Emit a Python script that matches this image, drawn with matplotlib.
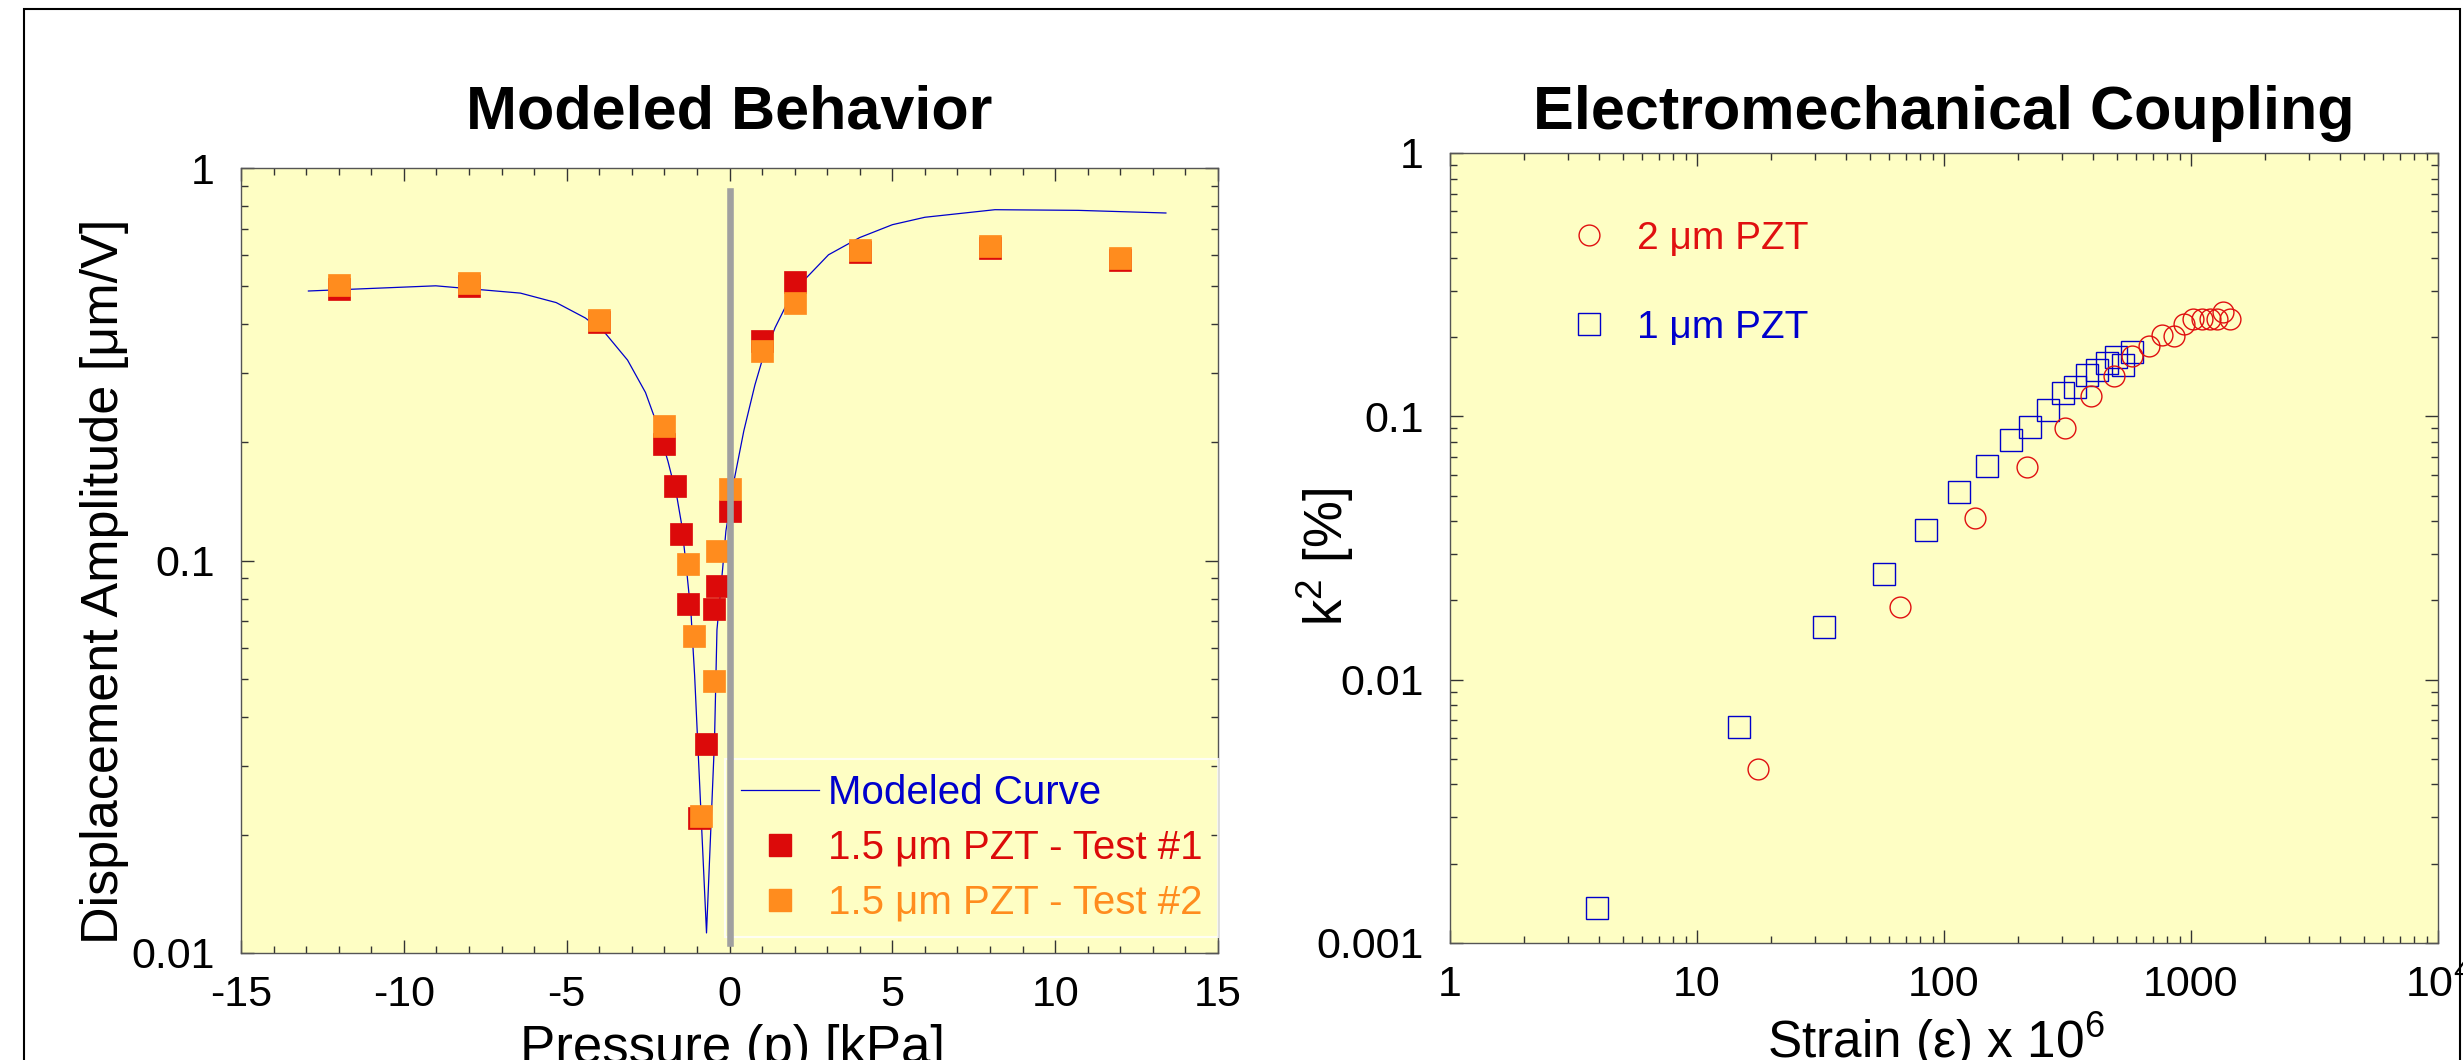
import matplotlib
matplotlib.use('Agg')
import matplotlib.pyplot as plt
import matplotlib.ticker as mticker
from matplotlib.patches import Rectangle
from matplotlib.lines import Line2D

plt.rcParams['font.family'] = ['Liberation Sans', 'DejaVu Sans']
plt.rcParams['mathtext.fontset'] = 'custom'
plt.rcParams['mathtext.rm'] = 'Liberation Sans'
plt.rcParams['mathtext.it'] = 'Liberation Sans:italic'
plt.rcParams['mathtext.bf'] = 'Liberation Sans:bold'
plt.rcParams['axes.unicode_minus'] = False

# ---------------- data: Modeled Behavior ----------------
model_p = [-12.93, -9.02, -6.42, -5.32, -4.43, -3.81, -3.13, -2.58, -2.24, -1.89,
           -1.62, -1.48, -1.345, -1.18, -1.07, -0.706, -0.46, -0.385, -0.21, -0.11,
           0.16, 0.44, 0.78, 0.99, 1.40, 1.81, 2.36, 3.04, 4.0, 5.0, 6.0, 8.15,
           10.70, 13.40]
model_amp = [0.486, 0.501, 0.480, 0.454, 0.415, 0.379, 0.324, 0.268, 0.224, 0.179,
             0.146, 0.125, 0.0997, 0.0728, 0.0508, 0.01125, 0.0349, 0.0666, 0.0954, 0.119,
             0.163, 0.214, 0.280, 0.321, 0.392, 0.459, 0.525, 0.601, 0.665, 0.717, 0.749, 0.783,
             0.780, 0.768]

test1_p = [-12, -8, -4, -2, -1.67, -1.48, -1.27, -0.95, -0.71, -0.48, -0.385, 0, 1, 2, 4, 8, 12]
test1_amp = [0.491, 0.500, 0.405, 0.198, 0.155, 0.117, 0.0774, 0.0221, 0.0341, 0.0753,
             0.0862, 0.1336, 0.363, 0.511, 0.612, 0.625, 0.582]

test2_p = [-12, -8, -4, -2, -1.27, -1.08, -0.88, -0.48, -0.385, 0, 1, 2, 4, 8, 12]
test2_amp = [0.502, 0.508, 0.409, 0.220, 0.0982, 0.0644, 0.0224, 0.0492, 0.106, 0.152,
             0.341, 0.453, 0.617, 0.632, 0.589]

# ---------------- data: Electromechanical Coupling ----------------
strain_2um = [17.6, 66.2, 134, 217, 309, 395, 489, 579, 676, 761, 853, 937, 1021, 1108,
              1194, 1278, 1352, 1438]
k2_2um = [0.00458, 0.0188, 0.0411, 0.0644, 0.0903, 0.1194, 0.142, 0.1695, 0.185, 0.203,
          0.202, 0.2235, 0.234, 0.234, 0.234, 0.234, 0.2496, 0.2336]

strain_1um = [3.95, 14.8, 32.7, 57.3, 84.6, 115, 150, 186, 223, 264, 303, 339, 380, 418,
              456, 499, 532, 579]
k2_1um = [0.00136, 0.00662, 0.0159, 0.0253, 0.0370, 0.0515, 0.0648, 0.0811, 0.0908, 0.1054,
          0.1223, 0.1296, 0.143, 0.150, 0.159, 0.168, 0.157, 0.176]

left_xticks = [-15, -10, -5, 0, 5, 10, 15]
left_yticks = [0.01, 0.1, 1]
left_yticklabels = ['0.01', '0.1', '1']
right_xticks = [1, 10, 100, 1000, 10000]
right_xticklabels = ['1', '10', '100', '1000', '10$^{4}$']
right_yticks = [0.001, 0.01, 0.1, 1]
right_yticklabels = ['0.001', '0.01', '0.1', '1']

# ---------------- style ----------------
BG = '#FEFEC4'
BLUE = '#0000CC'
RED = '#DC0A0A'
ORANGE = '#FF8C1E'
CRED = '#E01010'
SPINE = '#555555'

W, H = 2463, 1060
fig = plt.figure(figsize=(W / 100, H / 100), dpi=100)

fig.patches.append(Rectangle((24 / W, -0.1), (2460 - 24) / W, 1.1 - 9 / H,
                             transform=fig.transFigure, fill=False, lw=1.5,
                             ec='black', zorder=0))

ax1 = fig.add_axes([241 / W, 1 - 953 / H, 977 / W, 785 / H])
ax2 = fig.add_axes([1450 / W, 1 - 943 / H, 988 / W, 790 / H])


def style_axes(ax):
    ax.set_facecolor(BG)
    for s in ax.spines.values():
        s.set_color(SPINE)
        s.set_linewidth(1.0)
    ax.tick_params(which='both', direction='in', top=True, right=True,
                   color='#333333', labelsize=31, labelcolor='black')
    ax.tick_params(which='major', length=9.4, width=1.0)
    ax.tick_params(which='minor', length=5.0, width=1.0)
    ax.tick_params(axis='x', which='both', pad=16)
    ax.tick_params(axis='y', which='both', pad=19)


# ---------------- left panel ----------------
style_axes(ax1)
ax1.set_yscale('log')
ax1.set_xlim(-15, 15)
ax1.set_ylim(0.01, 1)
ax1.set_xticks(left_xticks)
ax1.xaxis.set_minor_locator(mticker.MultipleLocator(1))
ax1.set_yticks(left_yticks)
ax1.set_yticklabels(left_yticklabels)
ax1.yaxis.set_minor_locator(mticker.LogLocator(base=10, subs=range(2, 10)))
ax1.yaxis.set_minor_formatter(mticker.NullFormatter())

ax1.plot(model_p, model_amp, color=BLUE, lw=0.9, zorder=2)
ax1.plot(test1_p, test1_amp, ls='none', marker='s', ms=16.5, mfc=RED, mec=RED,
         mew=0.5, zorder=3)
ax1.plot(test2_p, test2_amp, ls='none', marker='s', ms=16.5, mfc=ORANGE, mec=ORANGE,
         mew=0.5, zorder=4)
ax1.axvline(0, ymin=0.0127, ymax=0.9707, color='#A0A0A0', lw=4.75, zorder=6)

ax1.set_title('Modeled Behavior', fontsize=44, fontweight='bold', y=1.0503, pad=0)
ax1.set_xlabel('Pressure (p) [kPa]', fontsize=38)
ax1.xaxis.label.set_va('baseline')
ax1.xaxis.set_label_coords(0.5026, -0.1401)
ax1.set_ylabel('Displacement Amplitude [μm/V]', fontsize=37.5)
ax1.yaxis.set_label_coords(-0.1146, 0.474)

h_line = Line2D([], [], color=BLUE, lw=0.9)
h_t1 = Line2D([], [], ls='none', marker='s', ms=16.5, mfc=RED, mec=RED)
h_t2 = Line2D([], [], ls='none', marker='s', ms=16.5, mfc=ORANGE, mec=ORANGE)
leg1 = ax1.legend([h_line, h_t1, h_t2],
                  ['Modeled Curve', '1.5 μm PZT - Test #1', '1.5 μm PZT - Test #2'],
                  loc='lower right', bbox_to_anchor=(1.0, 0.0204),
                  bbox_transform=ax1.transAxes, borderaxespad=0, fontsize=29,
                  frameon=True, fancybox=False, edgecolor='white', facecolor='none',
                  borderpad=0.38, labelspacing=0.42,
                  handlelength=1.95, handletextpad=0.22, numpoints=1)
leg1.get_frame().set_linewidth(1.5)
for t, c in zip(leg1.get_texts(), [BLUE, RED, ORANGE]):
    t.set_color(c)

# ---------------- right panel ----------------
style_axes(ax2)
ax2.set_xscale('log')
ax2.set_yscale('log')
ax2.set_xlim(1, 10000)
ax2.set_ylim(0.001, 1)
ax2.set_xticks(right_xticks)
ax2.set_xticklabels(right_xticklabels)
ax2.set_yticks(right_yticks)
ax2.set_yticklabels(right_yticklabels)
for axis in (ax2.xaxis, ax2.yaxis):
    axis.set_minor_locator(mticker.LogLocator(base=10, subs=range(2, 10)))
    axis.set_minor_formatter(mticker.NullFormatter())

ax2.plot(strain_1um, k2_1um, ls='none', marker='s', ms=16.3, mfc='none', mec=BLUE,
         mew=1.0, zorder=3)
ax2.plot(strain_2um, k2_2um, ls='none', marker='o', ms=15, mfc='none', mec=CRED,
         mew=1.0, zorder=4)

ax2.set_title('Electromechanical Coupling', fontsize=44, fontweight='bold', y=1.031, pad=0)
ax2.set_xlabel('Strain (ε) x 10$^{6}$', fontsize=37)
ax2.xaxis.label.set_va('baseline')
ax2.xaxis.set_label_coords(0.4919, -0.1456)
ax2.set_ylabel('k$^{2}$ [%]', fontsize=38)
ax2.yaxis.set_label_coords(-0.0951, 0.4886)

hc = Line2D([], [], ls='none', marker='o', ms=15, mfc='none', mec=CRED, mew=1.0)
hs = Line2D([], [], ls='none', marker='s', ms=16.3, mfc='none', mec=BLUE, mew=1.0)
leg2 = ax2.legend([hc, hs], ['2 μm PZT', '1 μm PZT'], loc='upper left',
                  bbox_to_anchor=(0.1215, 0.914), bbox_transform=ax2.transAxes,
                  frameon=False, fontsize=28, borderpad=0, borderaxespad=0,
                  handlelength=1.0, handletextpad=0.72, labelspacing=1.36, numpoints=1)
for t, c in zip(leg2.get_texts(), [CRED, BLUE]):
    t.set_color(c)

fig.savefig('out.png', dpi=100)
